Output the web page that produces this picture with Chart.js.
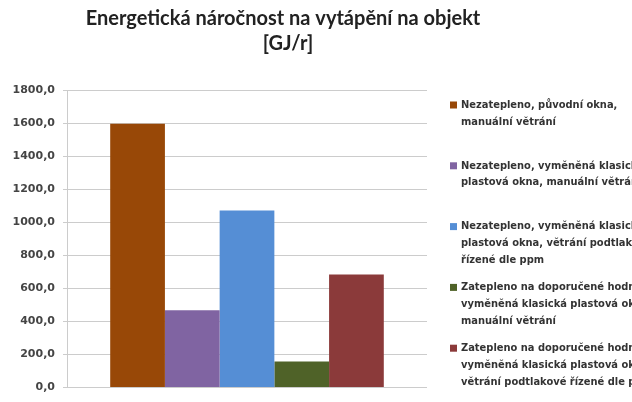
<!DOCTYPE html>
<html>
<head>
<meta charset="utf-8">
<script src="https://cdn.jsdelivr.net/npm/chart.js@4/dist/chart.umd.min.js"></script>
<style>
  html, body { margin: 0; padding: 0; background: #fff; }
  #wrap { width: 632px; height: 402px; }
</style>
</head>
<body>
<div id="wrap"><canvas id="chart"></canvas></div>
<script>
// data
const titleLines = ["Energetická náročnost na vytápění na objekt", "[GJ/r]"];
const categories = [""];
const seriesNames = [
    ["Nezatepleno, původní okna,", "manuální větrání"],
    ["Nezatepleno, vyměněná klasická", "plastová okna, manuální větrání"],
    ["Nezatepleno, vyměněná klasická", "plastová okna, větrání podtlakové", "řízené dle ppm"],
    ["Zatepleno na doporučené hodnoty,", "vyměněná klasická plastová okna,", "manuální větrání"],
    ["Zatepleno na doporučené hodnoty,", "vyměněná klasická plastová okna,", "větrání podtlakové řízené dle ppm"]
];
const seriesValues = [1595, 467, 1070, 157, 684];
const seriesColors = ["#984807", "#8064a2", "#558ed5", "#4f6228", "#8b3a3a"];
const yMax = 1800;
const yStep = 200;

const TITLE_FONT = "Lato, 'Liberation Sans', sans-serif";
const LEGEND_FONT = "'DejaVu Sans Condensed', 'DejaVu Sans', sans-serif";
const TICK_FONT = "'DejaVu Sans', sans-serif";

// title + legend drawn by hand (multi-line legend, cut at the right edge like the original)
const sidePlugin = {
    id: "side",
    afterDraw(chart) {
        const ctx = chart.ctx;
        ctx.save();
        ctx.fillStyle = "#222";
        ctx.textAlign = "center";
        ctx.textBaseline = "middle";
        ctx.font = "bold 20px " + TITLE_FONT;
        ctx.fillText(titleLines[0], 283, 19);
        ctx.fillText(titleLines[1], 288, 44);

        ctx.textAlign = "left";
        ctx.font = "bold 11px " + LEGEND_FONT;
        chart.data.datasets.forEach((ds, i) => {
            const top = 105 + i * 60.8;
            ctx.fillStyle = ds.backgroundColor;
            ctx.fillRect(450, top - 3.5, 7, 7);
            ctx.fillStyle = "#333";
            seriesNames[i].forEach((line, j) => {
                ctx.fillText(line, 461, top + j * 16.8);
            });
        });
        ctx.restore();
    }
};

const ctx = document.getElementById("chart").getContext("2d");
new Chart(ctx, {
    type: "bar",
    data: {
        labels: categories,
        datasets: seriesValues.map((v, i) => ({
            label: seriesNames[i].join(" "),
            data: [v],
            backgroundColor: seriesColors[i],
            borderWidth: 0,
            categoryPercentage: 0.76,
            barPercentage: 1
        }))
    },
    options: {
        responsive: true,
        maintainAspectRatio: false,
        animation: false,
        layout: { padding: { top: 90, right: 205, bottom: 5, left: 0 } },
        plugins: {
            legend: { display: false },
            title: { display: false },
            tooltip: { enabled: false }
        },
        scales: {
            x: { display: false },
            y: {
                min: 0,
                max: yMax,
                afterFit: (scale) => { scale.width = 67; },
                ticks: {
                    stepSize: yStep,
                    padding: 8,
                    color: "#444",
                    font: { family: TICK_FONT, size: 11, weight: "bold" },
                    callback: (v) => v.toFixed(1).replace(".", ",")
                },
                grid: { color: "#cccccc", tickLength: 4 },
                border: { display: true, color: "#cccccc" }
            }
        }
    },
    plugins: [sidePlugin]
});
</script>
</body>
</html>
